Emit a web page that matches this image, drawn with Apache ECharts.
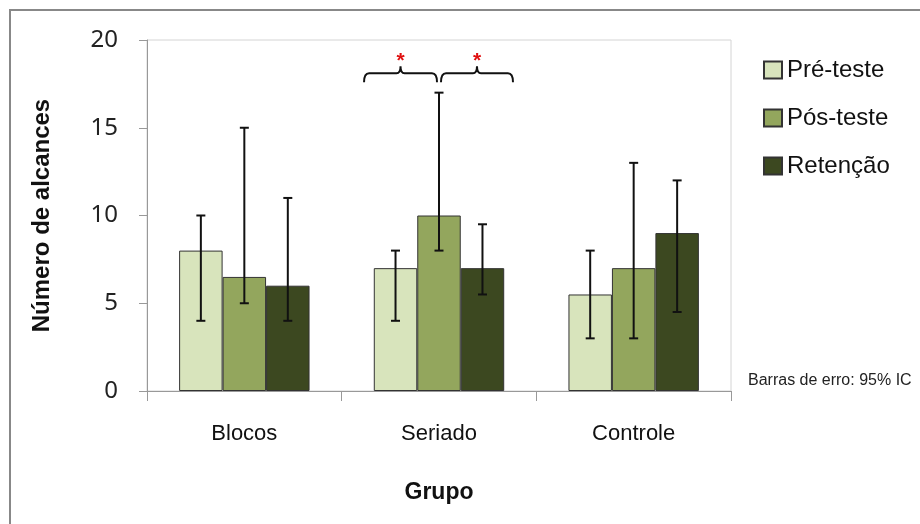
<!DOCTYPE html>
<html>
<head>
<meta charset="utf-8">
<script src="https://cdn.jsdelivr.net/npm/echarts@6/dist/echarts.min.js"></script>
<style>
  html, body { margin: 0; padding: 0; background: #fff; }
  #main { width: 920px; height: 524px; }
</style>
</head>
<body>
<div id="main"></div>
<script>
// dados
var grupos = ['Blocos', 'Seriado', 'Controle'];
var nomes = ['Pré-teste', 'Pós-teste', 'Retenção'];
var preTeste = [8, 7, 5.5];
var posTeste = [6.5, 10, 7];
var retencao = [6, 7, 9];
// intervalos de confiança 95% (mínimo, máximo)
var preIC = [[4, 10], [4, 8], [3, 8]];
var posIC = [[5, 15], [8, 17], [3, 13]];
var retIC = [[4, 11], [5.5, 9.5], [4.5, 12]];
var yTicks = [0, 5, 10, 15, 20];
var cores = ['#d8e4bc', '#93a65d', '#3c4820'];

var fonte = 'Liberation Sans, Arial, sans-serif';
var catGap = 0.33;

var myChart = echarts.init(document.getElementById('main'));

function barraErro(idx) {
  return function (params, api) {
    var cat = api.value(0);
    var lo = api.coord([cat, api.value(1)]);
    var hi = api.coord([cat, api.value(2)]);
    var band = api.size([1, 0])[0];
    var bw = band * (1 - catGap) / 3;
    var x = lo[0] + (idx - 1) * bw;
    var cap = 4.5;
    var st = { stroke: '#111', lineWidth: 2 };
    return {
      type: 'group',
      children: [
        { type: 'line', shape: { x1: x, y1: hi[1], x2: x, y2: lo[1] }, style: st },
        { type: 'line', shape: { x1: x - cap, y1: hi[1], x2: x + cap, y2: hi[1] }, style: st },
        { type: 'line', shape: { x1: x - cap, y1: lo[1], x2: x + cap, y2: lo[1] }, style: st }
      ]
    };
  };
}

function dadosIC(ic) {
  return ic.map(function (d, i) { return [i, d[0], d[1]]; });
}

function chave(x0, x1, y) {
  var m = (x0 + x1) / 2;
  return 'M' + x0 + ' ' + (y + 9) +
    ' Q' + x0 + ' ' + y + ' ' + (x0 + 5) + ' ' + y +
    ' L' + (m - 4) + ' ' + y +
    ' Q' + m + ' ' + y + ' ' + m + ' ' + (y - 7) +
    ' Q' + m + ' ' + y + ' ' + (m + 4) + ' ' + y +
    ' L' + (x1 - 5) + ' ' + y +
    ' Q' + x1 + ' ' + y + ' ' + x1 + ' ' + (y + 9);
}

var option = {
  animation: false,
  backgroundColor: '#fff',
  grid: {
    left: 147, right: 189, top: 40, bottom: 133,
    show: true, borderColor: '#d4d4d4', borderWidth: 1
  },
  legend: {
    data: nomes,
    orient: 'vertical',
    left: 758,
    top: 53,
    itemWidth: 18,
    itemHeight: 17,
    itemGap: 24,
    icon: 'rect',
    textStyle: { fontSize: 24, fontFamily: fonte, color: '#111' }
  },
  xAxis: {
    type: 'category',
    data: grupos,
    name: 'Grupo',
    nameLocation: 'middle',
    nameGap: 90,
    nameTextStyle: { fontSize: 23, fontWeight: 'bold', fontFamily: fonte, color: '#111' },
    axisLine: { lineStyle: { color: '#999', width: 1 } },
    axisTick: { show: true, length: 10, lineStyle: { color: '#999' } },
    axisLabel: { fontSize: 22, fontFamily: fonte, color: '#111', margin: 32 }
  },
  yAxis: {
    type: 'value',
    min: yTicks[0],
    max: yTicks[yTicks.length - 1],
    interval: 5,
    name: 'Número de alcances',
    nameLocation: 'middle',
    nameGap: 93,
    nameTextStyle: { fontSize: 24, fontWeight: 'bold', fontFamily: fonte, color: '#111' },
    axisLine: { show: true, lineStyle: { color: '#999', width: 1 } },
    axisTick: { show: true, length: 8, lineStyle: { color: '#999' } },
    splitLine: { show: false },
    axisLabel: { fontSize: 24, fontFamily: 'Noto Sans, sans-serif', color: '#222', margin: 29 }
  },
  series: [
    {
      name: nomes[0], type: 'bar', data: preTeste,
      barGap: '0%', barCategoryGap: '33%',
      itemStyle: { color: cores[0], borderColor: '#333', borderWidth: 1 }
    },
    {
      name: nomes[1], type: 'bar', data: posTeste,
      itemStyle: { color: cores[1], borderColor: '#333', borderWidth: 1 }
    },
    {
      name: nomes[2], type: 'bar', data: retencao,
      itemStyle: { color: cores[2], borderColor: '#333', borderWidth: 1 }
    },
    { type: 'custom', name: 'ic0', renderItem: barraErro(0), data: dadosIC(preIC), z: 10 },
    { type: 'custom', name: 'ic1', renderItem: barraErro(1), data: dadosIC(posIC), z: 10 },
    { type: 'custom', name: 'ic2', renderItem: barraErro(2), data: dadosIC(retIC), z: 10 },
    {
      type: 'custom', name: 'sig', z: 10,
      data: [[1, 18.1]],
      renderItem: function (params, api) {
        var c = api.coord([api.value(0), api.value(1)]);
        var band = api.size([1, 0])[0];
        var cx = c[0], y = c[1];
        var a0 = cx - band * 0.385, a1 = cx - 2;
        var b0 = cx + 2, b1 = cx + band * 0.38;
        var st = { stroke: '#111', lineWidth: 2, fill: 'none' };
        function ast(x) {
          return {
            type: 'text',
            style: {
              text: '*', x: x, y: y - 12, fill: '#e01010',
              font: 'bold 21px ' + fonte, align: 'center', verticalAlign: 'middle'
            }
          };
        }
        return {
          type: 'group',
          children: [
            { type: 'path', shape: { pathData: chave(a0, a1, y) }, style: st },
            { type: 'path', shape: { pathData: chave(b0, b1, y) }, style: st },
            ast((a0 + a1) / 2),
            ast((b0 + b1) / 2)
          ]
        };
      }
    }
  ],
  graphic: [
    {
      type: 'rect',
      shape: { x: 10, y: 10, width: 1000, height: 1000 },
      style: { fill: 'none', stroke: '#888', lineWidth: 2 }
    },
    {
      type: 'text',
      left: 748, top: 373,
      style: { text: 'Barras de erro: 95% IC', font: '16px ' + fonte, fill: '#222' }
    }
  ]
};

myChart.setOption(option);
</script>
</body>
</html>
